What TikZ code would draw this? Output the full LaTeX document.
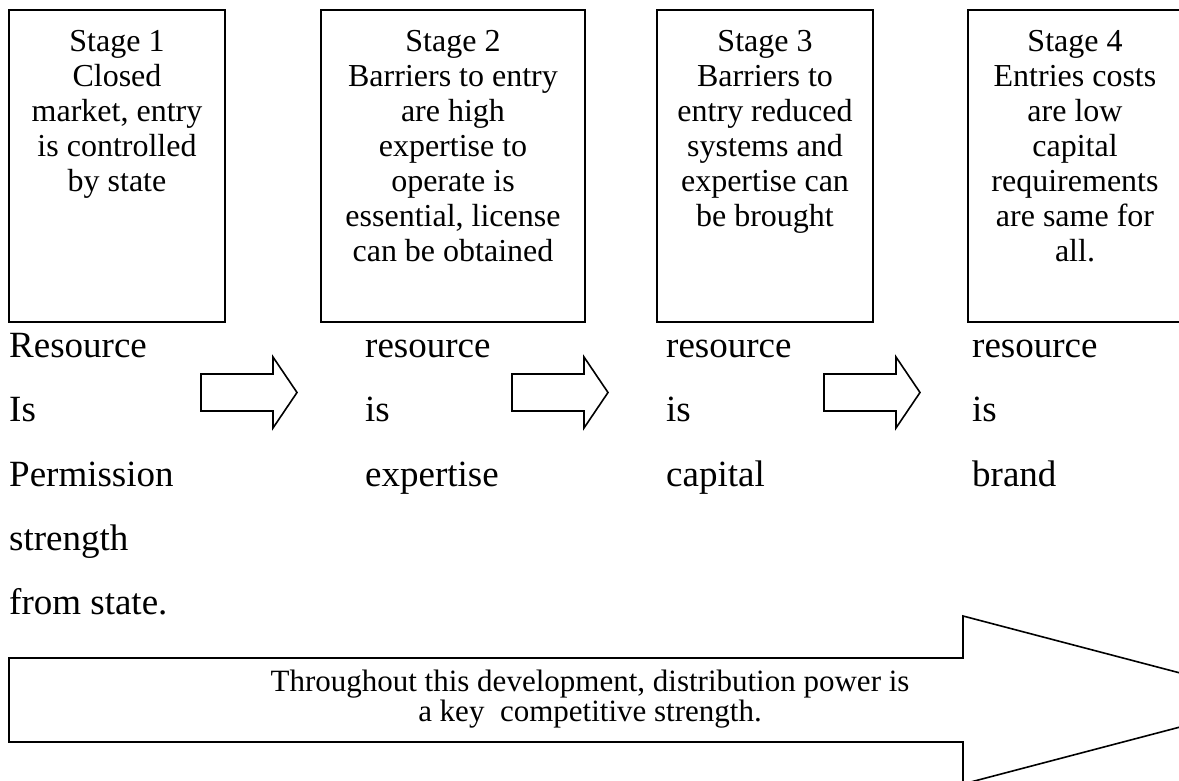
\documentclass[tikz,border=0pt]{standalone}
\usepackage{fontspec}
\setmainfont{Liberation Serif}
\begin{document}
\begin{tikzpicture}[x=1pt,y=-1pt,
  stagebox/.style={draw=black,line width=1.6pt},
  stagetext/.style={anchor=north,inner sep=0pt,align=center,font=\fontsize{32}{35}\selectfont},
  rowtext/.style={anchor=base west,inner sep=0pt,font=\fontsize{37}{44}\selectfont},
  blockarrow/.style={draw=black,line width=1.6pt,line join=miter,fill=white},
  bigtext/.style={anchor=north,inner sep=0pt,align=center,font=\fontsize{31}{30}\selectfont}]
\useasboundingbox (0,0) rectangle (1179,781);
\clip (0,0) rectangle (1179,781);
% stage boxes
\draw[stagebox] (9,10) rectangle (225,322);
\draw[stagebox] (321,10) rectangle (585,322);
\draw[stagebox] (657,10) rectangle (873,322);
\draw[stagebox] (968,10) rectangle (1182,322);
\node[stagetext] (s1) at (117,30.5) {Stage 1\\Closed\\market, entry\\is controlled\\by state};
\node[stagetext] (s2) at (453,30.5) {Stage 2\\Barriers to entry\\are high\\expertise to\\operate is\\essential, license\\can be obtained};
\node[stagetext] (s3) at (765,30.5) {Stage 3\\Barriers to\\entry reduced\\systems and\\expertise can\\be brought};
\node[stagetext] (s4) at (1075,30.5) {Stage 4\\Entries costs\\are low\\capital\\requirements\\are same for\\all.};
% resource rows
\node[rowtext] (r1a) at (9,357) {Resource};
\node[rowtext] (r1b) at (9,421) {Is};
\node[rowtext] (r1c) at (9,486) {Permission};
\node[rowtext] (r1d) at (9,550) {strength};
\node[rowtext] (r1e) at (9,614) {from state.};
\node[rowtext] (r2a) at (365,357) {resource};
\node[rowtext] (r2b) at (365,421) {is};
\node[rowtext] (r2c) at (365,486) {expertise};
\node[rowtext] (r3a) at (666,357) {resource};
\node[rowtext] (r3b) at (666,421) {is};
\node[rowtext] (r3c) at (666,486) {capital};
\node[rowtext] (r4a) at (972,357) {resource};
\node[rowtext] (r4b) at (972,421) {is};
\node[rowtext] (r4c) at (972,486) {brand};
% small block arrows
\foreach \x in {201,512,824}{
  \draw[blockarrow] (\x,374) -- (\x+72,374) -- (\x+72,357) -- (\x+96,392.5)
    -- (\x+72,428) -- (\x+72,411) -- (\x,411) -- cycle;
}
% big block arrow
\draw[blockarrow] (9,658) -- (963,658) -- (963,616) -- (1283,700) -- (963,784)
  -- (963,742) -- (9,742) -- cycle;
\node[bigtext] (big) at (590,670) {Throughout this development, distribution power is\\a key\ \ competitive strength.};
\end{tikzpicture}
\end{document}
